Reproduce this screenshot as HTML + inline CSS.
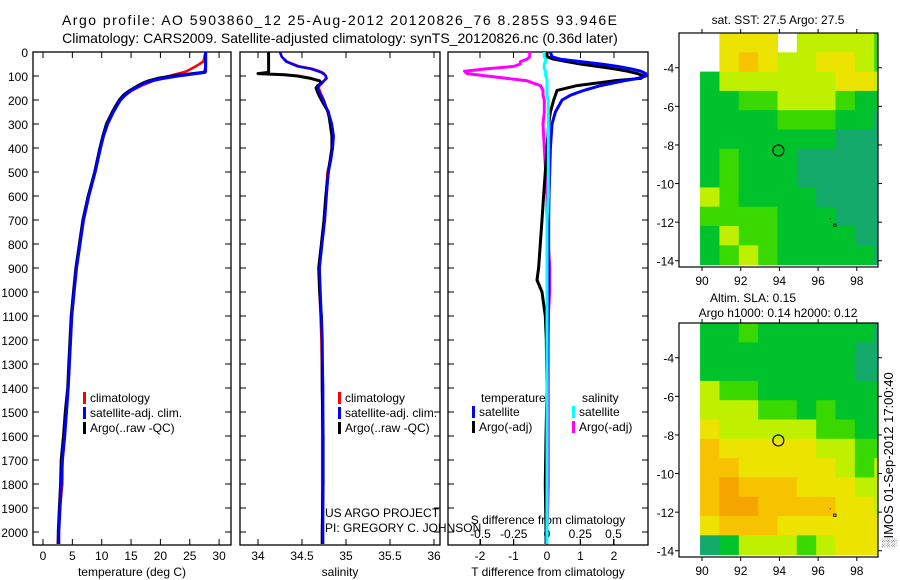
<!DOCTYPE html>
<html><head><meta charset="utf-8"><style>
body{margin:0;background:#fff}
svg{display:block;font-family:"Liberation Sans",sans-serif;font-size:12px}
</style></head><body>
<svg id="s" width="900" height="580" xmlns="http://www.w3.org/2000/svg">
<text x="62" y="25" textLength="555" lengthAdjust="spacing" font-size="14">Argo profile: AO 5903860_12 25-Aug-2012 20120826_76 8.285S 93.946E</text>
<text x="340" y="43" text-anchor="middle" font-size="14">Climatology: CARS2009. Satellite-adjusted climatology: synTS_20120826.nc (0.36d later)</text>
<g id="g"></g>
</svg>
<script>
// ---- data ----
const yTicks=[0,100,200,300,400,500,600,700,800,900,1000,1100,1200,1300,1400,1500,1600,1700,1800,1900,2000];
const tTicks=[0,5,10,15,20,25,30];
const sTicks=[34,34.5,35,35.5,36];
const tdTicks=[-2,-1,0,1,2];
const sdTicks=[-0.5,-0.25,0,0.25,0.5];
const sdTickLabels=["-0.5","-0.25","0","0.25","0.5"];
const tDepth=[0,40,60,80,85,90,100,110,120,130,140,150,160,170,180,200,220,250,300,350,400,500,600,700,800,900,1000,1100,1200,1300,1400,1500,1600,1700,1800,1900,2000,2050];
const tArgo=[27.7,27.7,27.7,27.6,27.3,25.5,22,19.5,18,17,16.2,15.5,14.8,14.2,13.7,13,12.5,11.8,10.8,10.2,9.7,8.8,7.7,6.8,6.2,5.6,5.2,4.8,4.6,4.4,4.2,3.8,3.5,3.1,3.0,2.8,2.6,2.6];
const tSat=[27.7,27.7,27.7,27.7,27.6,26,23,20.5,18.5,17.3,16.5,15.7,15,14.5,14,13.2,12.7,12,11,10.3,9.8,8.9,7.8,6.9,6.3,5.7,5.3,4.9,4.7,4.5,4.3,4.0,3.7,3.3,3.1,2.9,2.7,2.7];
const tClim=[27.7,27.3,26,24.5,23.8,23,21.5,20,18.8,17.8,16.8,16,15.2,14.6,14,13.2,12.6,11.9,10.9,10.2,9.7,8.8,7.8,6.9,6.2,5.6,5.2,4.9,4.7,4.5,4.3,4.0,3.7,3.3,3.3,2.9,2.6,2.5];
const sDepth=[0,20,40,60,70,80,85,90,95,100,110,120,130,140,150,170,200,250,300,350,400,450,500,600,700,800,900,1000,1100,1200,1400,1600,1800,2000,2050];
const sArgo=[34.12,34.12,34.12,34.12,34.12,34.12,34.12,34.0,34.3,34.45,34.6,34.7,34.72,34.68,34.66,34.68,34.72,34.80,34.82,34.84,34.84,34.82,34.8,34.77,34.75,34.72,34.69,34.70,34.72,34.73,34.73,34.74,34.74,34.73,34.73];
const sSat=[34.25,34.27,34.32,34.45,34.6,34.68,34.72,34.74,34.76,34.77,34.78,34.75,34.72,34.69,34.68,34.7,34.74,34.8,34.84,34.86,34.85,34.83,34.8,34.78,34.76,34.73,34.70,34.71,34.72,34.73,34.74,34.74,34.74,34.74,34.74];
const sClim=[34.25,34.27,34.33,34.47,34.62,34.7,34.73,34.75,34.76,34.77,34.77,34.75,34.73,34.7,34.69,34.71,34.75,34.79,34.83,34.85,34.84,34.82,34.79,34.77,34.75,34.72,34.70,34.70,34.71,34.72,34.73,34.73,34.73,34.73,34.73];
const dDepth=[0,20,30,40,50,60,70,80,90,100,110,120,140,160,180,200,250,300,400,500,600,700,800,900,950,1000,1100,1200,1400,1600,1800,2000,2050];
const dtSat=[0.1,0.15,0.4,1.0,1.6,2.1,2.5,2.8,2.95,2.95,2.7,2.3,1.6,1.1,0.7,0.45,0.25,0.15,0.1,0.08,0.06,0.05,0.05,0.05,0.05,0.05,0.04,0.02,0,0,0,-0.02,-0.02];
const dtArgo=[0,0,0.2,0.6,1.0,1.5,2.0,2.4,2.7,2.9,2.8,2.0,0.9,0.3,0.25,0.2,0.1,0.05,0,-0.05,-0.1,-0.15,-0.2,-0.25,-0.3,-0.15,-0.05,-0.02,0,-0.03,-0.05,-0.03,-0.03];
const dsArgo=[-0.13,-0.13,-0.15,-0.2,-0.2,-0.25,-0.45,-0.62,-0.6,-0.45,-0.3,-0.15,-0.05,-0.03,-0.03,-0.02,-0.02,-0.03,-0.02,-0.01,0,0,0.01,0.02,0.02,0.02,0.01,0.01,0.01,0.01,0.01,0,0];
const dsSat=[-0.02,-0.02,-0.01,-0.01,-0.02,-0.02,-0.02,-0.01,-0.01,-0.01,0,0,0,0,0,0.01,0.01,0.01,0.01,0.01,0.01,0,0,0,0,0,0,0,0,0,0,0,0];
const lonTicks=[90,92,94,96,98];
const latTicks=[-4,-6,-8,-10,-12,-14];
const latTickLabels=["-4","-6","-8","-10","-12","-14"];
const sstGrid=[
[-1,4,4,4,-1,3,3,3,3,2],
[-1,4,5,4,3,3,4,4,3,2],
[1,3,3,3,3,3,3,4,4,3],
[1,1,2,2,3,3,3,2,1,1],
[1,1,1,1,2,2,2,1,1,0],
[1,1,1,1,1,1,1,0,0,0],
[1,2,1,1,1,0,0,0,0,0],
[1,2,1,1,1,0,0,0,0,0],
[3,2,1,1,1,1,0,0,0,0],
[2,2,2,2,1,1,1,0,0,0],
[1,3,2,2,1,1,1,1,0,0],
[1,2,3,2,1,1,1,1,1,0]];
const slaGrid=[
[1,1,2,1,1,1,1,1,1,0],
[1,1,1,1,1,1,1,1,0,0],
[1,1,1,1,1,1,1,1,0,0],
[3,2,2,1,1,1,1,1,1,1],
[3,3,3,2,2,1,2,1,1,1],
[4,3,3,3,3,3,2,2,1,1],
[5,4,4,4,4,4,3,3,2,2],
[5,5,4,4,4,4,4,3,2,3],
[5,6,5,5,5,4,4,4,3,3],
[5,6,6,5,5,5,5,4,4,3],
[4,5,5,5,4,4,4,4,4,4],
[0,1,3,3,3,2,3,4,4,4]];
const palette=["#14aa6c","#00c22c","#38d800","#bef000","#ece400","#f7c200","#f5a400"];
// ---- drawing ----
const NS="http://www.w3.org/2000/svg";const G=document.getElementById('g');
function mk(t,a,p){const e=document.createElementNS(NS,t);for(const k in a)e.setAttribute(k,a[k]);(p||G).appendChild(e);return e;}
const yTop=52,yPx=0.24;const Y=d=>yTop+d*yPx;const yBot=545;
const panels=[
 {x0:33,x1:231,X:v=>43+v*5.87,name:'temperature'},
 {x0:240,x1:440,X:v=>258+(v-34)*88,name:'salinity'},
 {x0:448,x1:648,X:v=>547+v*33.5,name:'diff'}];
const XS=v=>547+v*133;
panels.forEach((p,i)=>{
 const r=mk('rect',{x:p.x0,y:yTop,width:p.x1-p.x0,height:yBot-yTop,fill:'none',stroke:'#000','stroke-width':1.3});
 
 
 yTicks.forEach(d=>{mk('line',{x1:p.x0,x2:p.x0+6,y1:Y(d),y2:Y(d),stroke:'#000'});mk('line',{x1:p.x1,x2:p.x1-6,y1:Y(d),y2:Y(d),stroke:'#000'});});
});
yTicks.forEach(d=>{const t=mk('text',{x:28,y:Y(d)+5,'text-anchor':'end'});t.textContent=d;
 
 });
function xt(p,ticks,labels,ly){ticks.forEach((v,j)=>{const x=p.X(v);mk('line',{x1:x,x2:x,y1:yTop,y2:yTop+6,stroke:'#000'});mk('line',{x1:x,x2:x,y1:yBot,y2:yBot-6,stroke:'#000'});
 const t=mk('text',{x:x,y:ly,'text-anchor':'middle'});t.textContent=labels?labels[j]:v;
 
 });}
xt(panels[0],tTicks,null,560);xt(panels[1],sTicks,null,560);xt(panels[2],tdTicks,null,560);
sdTicks.forEach((v,j)=>{const x=XS(v);mk('line',{x1:x,x2:x,y1:yBot,y2:yBot-6,stroke:'#000'});const t=mk('text',{x:x,y:538,'text-anchor':'middle'});t.textContent=sdTickLabels[j];
 
 });
function lab(x,y,s,n,anc,extra){const t=mk('text',Object.assign({x:x,y:y,'text-anchor':anc||'middle'},extra||{}));t.textContent=s;return t;}
lab(132,576,'temperature (deg C)','x-axis-title-temperature');
lab(340,576,'salinity','x-axis-title-salinity');
lab(548,576,'T difference from climatology','x-axis-title-t-diff');
lab(548,524,'S difference from climatology','x-axis-title-s-diff');
lab(325,517,'US ARGO PROJECT','project-label','start');
lab(325,532,'PI: GREGORY C. JOHNSON','pi-label','start');
function line(p,X,vals,col,w,n){const pts=p.map((d,k)=>X(vals[k]).toFixed(1)+','+Y(d).toFixed(1)).join(' ');const e=mk('polyline',{points:pts,fill:'none',stroke:col,'stroke-width':w,'stroke-linejoin':'round'});
 
 }
const P=panels;
line(tDepth,P[0].X,tClim,'#f00',2.5,'temperature-climatology-line');
line(tDepth,P[0].X,tArgo,'#000',3,'temperature-argo-line');
line(tDepth,P[0].X,tSat,'#00f',3,'temperature-satellite-line');
line(sDepth,P[1].X,sClim,'#f00',2.5,'salinity-climatology-line');
line(sDepth,P[1].X,sArgo,'#000',3,'salinity-argo-line');
line(sDepth,P[1].X,sSat,'#00f',2.5,'salinity-satellite-line');
line(dDepth,XS,dsArgo,'#f0f',3,'s-diff-argo-line');
line(dDepth,P[2].X,dtArgo,'#000',3,'t-diff-argo-line');
line(dDepth,P[2].X,dtSat,'#00f',3,'t-diff-satellite-line');
line(dDepth,XS,dsSat,'#0ff',3,'s-diff-satellite-line');
function leg(x,y,col,txt,n){const r=mk('rect',{x:x,y:y-10,width:3,height:12,fill:col});lab(x+7,y,txt,n,'start');}
[[0,'#f00','climatology'],[1,'#00f','satellite-adj. clim.'],[2,'#000','Argo(..raw -QC)']].forEach(a=>{leg(83,402+a[0]*15,a[1],a[2],'legend-temp-'+a[0]);leg(338,402+a[0]*15,a[1],a[2],'legend-sal-'+a[0]);});
lab(481,402,'temperature','legend-temperature-heading','start');
lab(582,402,'salinity','legend-salinity-heading','start');
leg(472,416,'#00f','satellite','legend-t-satellite');leg(472,431,'#000','Argo(-adj)','legend-t-argo');
leg(572,416,'#0ff','satellite','legend-s-satellite');leg(572,431,'#f0f','Argo(-adj)','legend-s-argo');
// maps
function map(top,grid,n){const x0=679,x1=878,LX=l=>702+(l-90)*19.35,LY=l=>top+(-2.2-l)*19.3;
 const bot=top+234;
 grid.forEach((row,ri)=>row.forEach((v,ci)=>{if(v<0)return;const lon=89.9+ci,lat=-2.2-ri;
  const xa=LX(lon),xb=Math.min(LX(lon+1),x1),ya=LY(lat),yb=Math.min(LY(lat-1),bot);
  const c=mk('rect',{x:xa,y:ya,width:xb-xa+0.5,height:yb-ya+0.5,fill:palette[v]});
  
  }));
 const f=mk('rect',{x:x0,y:top,width:x1-x0,height:bot-top,fill:'none',stroke:'#000','stroke-width':1.2});
 
 
 lonTicks.forEach(l=>{const x=LX(l);mk('line',{x1:x,x2:x,y1:top,y2:top-4,stroke:'#000'});mk('line',{x1:x,x2:x,y1:bot,y2:bot+4,stroke:'#000'});lab(x,bot+18,String(l),n+'-lon-label');});
 latTicks.forEach((l,j)=>{const y=LY(l);mk('line',{x1:x0,x2:x0-4,y1:y,y2:y,stroke:'#000'});mk('line',{x1:x1,x2:x1+4,y1:y,y2:y,stroke:'#000'});lab(674,y+5,latTickLabels[j],n+'-lat-label','end');});
 const c=mk('circle',{cx:LX(93.946),cy:LY(-8.285),r:5.5,fill:'none',stroke:'#000','stroke-width':1.2});
 
 
 mk('rect',{x:LX(96.85)-1,y:LY(-12.15)-1,width:2.5,height:2.5,fill:'none',stroke:'#000','stroke-width':0.8});
 mk('rect',{x:LX(96.6),y:LY(-11.8),width:1,height:1,fill:'#000'});}
map(33,sstGrid,'sst-map');
map(323,slaGrid,'sla-map');
lab(778,24,'sat. SST: 27.5 Argo: 27.5','sst-map-title');
lab(753,302,'Altim. SLA: 0.15','sla-map-title');
lab(778,317,'Argo h1000: 0.14 h2000: 0.12','sla-map-subtitle');
lab(0,0,'\u2591IMOS 01-Sep-2012 17:00:40','imos-timestamp','middle',{transform:'translate(893,460) rotate(-90)','font-size':'13'});
</script>
</body></html>
